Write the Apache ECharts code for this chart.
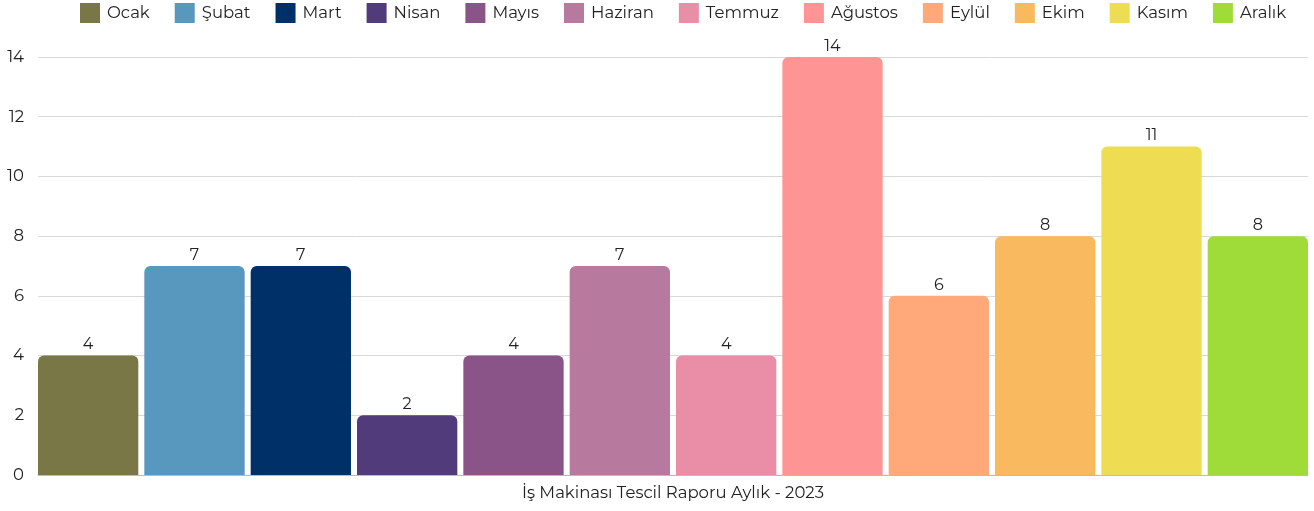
<!DOCTYPE html>
<html>
<head>
<meta charset="utf-8">
<script src="https://cdn.jsdelivr.net/npm/echarts@6/dist/echarts.min.js"></script>
<style>
  html, body { margin: 0; padding: 0; background: #fff; }
  #chart { width: 1314px; height: 511px; }
</style>
</head>
<body>
<div id="chart"></div>
<script>
const categories = ['İş Makinası Tescil Raporu Aylık - 2023'];
const months = ['Ocak', 'Şubat', 'Mart', 'Nisan', 'Mayıs', 'Haziran', 'Temmuz', 'Ağustos', 'Eylül', 'Ekim', 'Kasım', 'Aralık'];
const values = [4, 7, 7, 2, 4, 7, 4, 14, 6, 8, 11, 8];
const colors = ['#7a7746', '#5897be', '#003068', '#523b7b', '#8b5489', '#b8799e', '#ea8da7', '#ff9494', '#ffa87a', '#f9b95e', '#eedc52', '#9fdb39'];
const yTicks = [0, 2, 4, 6, 8, 10, 12, 14];

const font = 'Montserrat, "Noto Sans", sans-serif';
const chart = echarts.init(document.getElementById('chart'));

chart.setOption({
  animation: false,
  textStyle: { fontFamily: font },
  legend: {
    top: 3,
    left: 80,
    padding: 0,
    icon: 'rect',
    itemWidth: 20,
    itemHeight: 20,
    itemGap: 25,
    textStyle: { fontSize: 16.5, color: '#222', fontFamily: font, padding: [0, 0, 0, 2] },
    data: months
  },
  grid: { left: 38, right: 6, top: 57, bottom: 36 },
  xAxis: {
    type: 'category',
    data: categories,
    axisLine: { lineStyle: { color: '#bbb' } },
    axisTick: { show: false },
    axisLabel: { fontSize: 16.5, color: '#222', margin: 10 }
  },
  yAxis: {
    type: 'value',
    min: yTicks[0],
    max: yTicks[yTicks.length - 1],
    interval: 2,
    axisLabel: { fontSize: 16.5, color: '#222', margin: 14 },
    splitLine: { lineStyle: { color: '#d9d9d9' } }
  },
  series: months.map((m, i) => ({
    name: m,
    type: 'bar',
    data: [values[i]],
    barGap: '6%',
    barCategoryGap: '0%',
    itemStyle: { color: colors[i], borderRadius: [6, 6, 0, 0] },
    label: { show: true, position: 'top', fontSize: 16, color: '#222', distance: 3 }
  }))
});
</script>
</body>
</html>
